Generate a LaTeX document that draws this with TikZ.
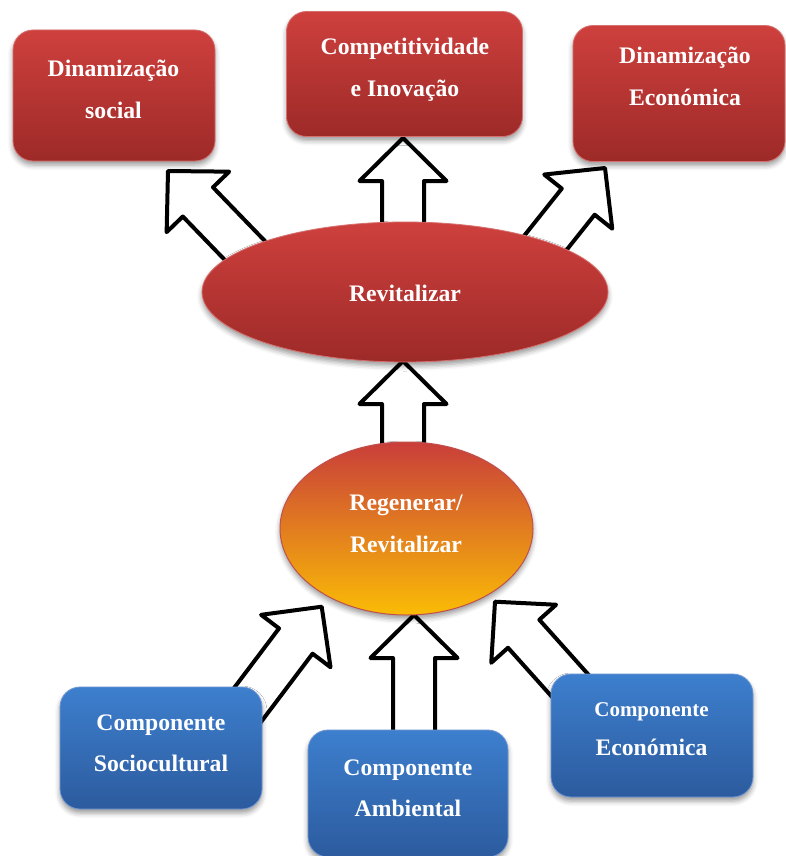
\documentclass[tikz,border=0pt]{standalone}
\usepackage{fontspec}
\setmainfont{Liberation Serif}
\usetikzlibrary{shapes.geometric,calc,shadows.blur}
\definecolor{rtop}{RGB}{206,64,61}
\definecolor{rbot}{RGB}{157,42,40}
\definecolor{rline}{RGB}{214,112,110}
\definecolor{btop}{RGB}{61,127,206}
\definecolor{bbot}{RGB}{44,91,158}
\definecolor{bline}{RGB}{112,152,212}
\definecolor{otop}{RGB}{201,62,58}
\definecolor{omid}{RGB}{221,104,44}
\definecolor{obot}{RGB}{250,188,5}
\definecolor{oline}{RGB}{192,80,77}
\begin{document}
\begin{tikzpicture}[x=1pt,y=-1pt,
  softshadow/.style={blur shadow={shadow xshift=0pt,shadow yshift=-4pt,shadow blur radius=5pt}},
  redbox/.style={rectangle,rounded corners=20pt,top color=rtop,bottom color=rbot,draw=rline,line width=0.8pt,inner sep=0pt,softshadow},
  bluebox/.style={rectangle,rounded corners=20pt,top color=btop,bottom color=bbot,draw=bline,line width=0.8pt,inner sep=0pt,softshadow},
  redoval/.style={ellipse,top color=rtop,bottom color=rbot,draw=rline,line width=0.8pt,inner sep=0pt,softshadow},
  orangeoval/.style={ellipse,top color=otop,middle color=omid,bottom color=obot,draw=oline,line width=1pt,inner sep=0pt,softshadow},
  lbl/.style={text=white,font=\bfseries\fontsize{23.7}{28}\selectfont,inner sep=0pt,anchor=base},
  lblsmall/.style={lbl,font=\bfseries\fontsize{21}{25}\selectfont},
  blockarrow/.style={draw=black,fill=white,line width=4pt,line join=round,
    to path={let \p1=(\tikztostart), \p2=(\tikztotarget),
      \n1={atan2(\y2-\y1,\x2-\x1)}, \n2={veclen(\x2-\x1,\y2-\y1)} in
      ([shift={(\p2)},rotate=\n1]0pt,0pt)
      -- ([shift={(\p2)},rotate=\n1]-43pt,43.5pt)
      -- ([shift={(\p2)},rotate=\n1]-43pt,21pt)
      -- ([shift={(\p2)},rotate=\n1]-\n2,21pt)
      -- ([shift={(\p2)},rotate=\n1]-\n2,-21pt)
      -- ([shift={(\p2)},rotate=\n1]-43pt,-21pt)
      -- ([shift={(\p2)},rotate=\n1]-43pt,-43.5pt)
      -- cycle}}
]
\useasboundingbox (0,0) rectangle (786,856);
\clip (0,0) rectangle (786,856);

% arrow end points
\coordinate (a1tail) at (403,250);   \coordinate (a1tip) at (403,138);
\coordinate (a2tail) at (403,470);   \coordinate (a2tip) at (403,361);
\coordinate (a3tail) at (414,760);   \coordinate (a3tip) at (414,615);
\coordinate (a4tail) at (265.4,271.7); \coordinate (a4tip) at (168,171);
\coordinate (a5tail) at (517.8,277.5); \coordinate (a5tip) at (605,168);
\coordinate (a6tail) at (237.4,718.4); \coordinate (a6tip) at (321.7,606.7);
\coordinate (a7tail) at (588.4,706.1); \coordinate (a7tip) at (495,601.7);

% block arrows (behind shapes)
\draw[blockarrow] (a1tail) to (a1tip);
\draw[blockarrow] (a2tail) to (a2tip);
\draw[blockarrow] (a3tail) to (a3tip);
\draw[blockarrow] (a4tail) to (a4tip);
\draw[blockarrow] (a5tail) to (a5tip);
\draw[blockarrow] (a6tail) to (a6tip);
\draw[blockarrow] (a7tail) to (a7tip);

% top boxes
\node[redbox,minimum width=202pt,minimum height=131pt] (DS) at (114,95.5) {};
\node[lbl] (DS1) at (113.5,76.7) {Dinamização};
\node[lbl] (DS2) at (113.5,119) {social};

\node[redbox,minimum width=236pt,minimum height=125pt] (CI) at (404.5,74) {};
\node[lbl] (CI1) at (405,55) {Competitividade};
\node[lbl] (CI2) at (405,96.7) {e Inovação};

\node[redbox,minimum width=212pt,minimum height=136pt] (DE) at (679,93.5) {};
\node[lbl] (DE1) at (685,63.3) {Dinamização};
\node[lbl] (DE2) at (685,106) {Económica};

% ellipses
\node[redoval,minimum width=406pt,minimum height=140pt] (RV) at (405,292) {};
\node[lbl] (RV1) at (405,301) {Revitalizar};

\node[orangeoval,minimum width=253pt,minimum height=173pt] (RG) at (406.5,528.5) {};
\node[lbl] (RG1) at (406,510) {Regenerar/};
\node[lbl] (RG2) at (406,552.7) {Revitalizar};

% bottom boxes
\node[bluebox,minimum width=202pt,minimum height=122pt] (CS) at (161,748) {};
\node[lbl] (CS1) at (161,730) {Componente};
\node[lbl] (CS2) at (161,771.7) {Sociocultural};

\node[bluebox,minimum width=200pt,minimum height=127pt] (CA) at (408,793.5) {};
\node[lbl] (CA1) at (408,775.7) {Componente};
\node[lbl] (CA2) at (408,816.7) {Ambiental};

\node[bluebox,minimum width=202pt,minimum height=123pt] (CE) at (652,735.5) {};
\node[lblsmall] (CE1) at (651.5,716.7) {Componente};
\node[lbl] (CE2) at (651.5,755.7) {Económica};
\end{tikzpicture}
\end{document}
